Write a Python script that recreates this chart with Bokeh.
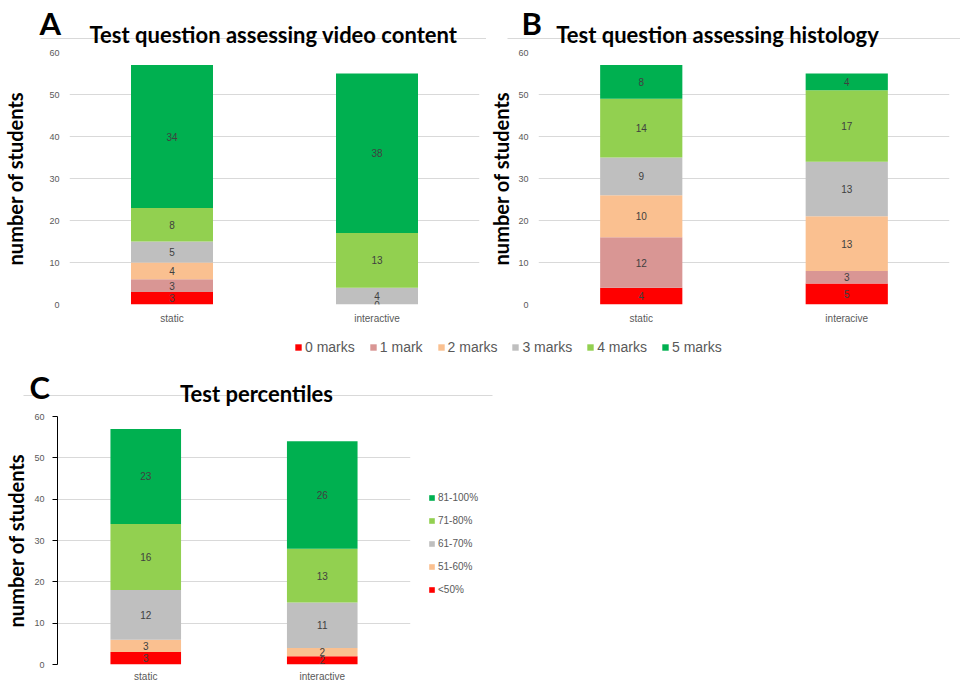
from bokeh.plotting import figure
from bokeh.layouts import column, row
from bokeh.models import (FactorRange, Range1d, FixedTicker, Label, BoxAnnotation,
                          Legend, LegendItem, ColumnDataSource, Spacer)
from bokeh.core.properties import value
from bokeh.embed import file_html
from bokeh.resources import INLINE

# ---------------- data ----------------
mark_labels = ["0 marks", "1 mark", "2 marks", "3 marks", "4 marks", "5 marks"]
mark_colors = ["#FF0000", "#D99694", "#FAC090", "#BFBFBF", "#92D050", "#00B050"]

a_groups = ["static", "interactive"]
a_static = [3, 3, 4, 5, 8, 34]
a_interactive = [0, 0, 0, 4, 13, 38]

b_groups = ["static", "interacive"]
b_static = [4, 12, 10, 9, 14, 8]
b_interactive = [5, 3, 13, 13, 17, 4]

pct_labels = ["<50%", "51-60%", "61-70%", "71-80%", "81-100%"]
pct_colors = ["#FF0000", "#FAC090", "#BFBFBF", "#92D050", "#00B050"]
c_groups = ["static", "interactive"]
c_static = [3, 3, 12, 16, 23]
c_interactive = [2, 2, 11, 13, 26]

y_ticks = [0, 10, 20, 30, 40, 50, 60]

titles = ["Test question assessing video content",
          "Test question assessing histology",
          "Test percentiles"]
letters = ["A", "B", "C"]
y_label = "number of students"

TICK_FONT = "Liberation Sans"
TITLE_FONT = "Lato"
GRID = "#D9D9D9"
BORDER = "#D9D9D9"
NAN = float("nan")


def make_panel(groups, vals, colors, width, height, mbl, mbr, mbt, mbb, label_standoff):
    p = figure(x_range=FactorRange(*groups), y_range=Range1d(0, 60),
               width=width, height=height, output_backend="svg", toolbar_location=None,
               min_border_left=mbl, min_border_right=mbr, min_border_top=mbt,
               min_border_bottom=mbb)
    keys = [f"s{i}" for i in range(len(colors))]
    data = {"g": groups}
    for i, k in enumerate(keys):
        data[k] = [vals[gi][i] for gi in range(len(groups))]
    src = ColumnDataSource(data)
    rs = p.vbar_stack(keys, x="g", width=0.4, fill_color=colors, line_color=None, source=src)

    xs, ys, ts = [], [], []
    for gi, g in enumerate(groups):
        cum = 0
        for i, v in enumerate(vals[gi]):
            if v > 0 or i == 0:
                xs.append(g)
                ys.append(cum + v / 2)
                ts.append(str(v))
            cum += v
    p.text(x=xs, y=ys, text=ts, text_align="center", text_baseline="middle",
           text_font_size="10px", text_color="#404040", text_font=value(TICK_FONT))

    p.yaxis.ticker = FixedTicker(ticks=y_ticks)
    p.yaxis.axis_line_color = None
    p.yaxis.major_tick_line_color = None
    p.yaxis.minor_tick_line_color = None
    p.yaxis.major_tick_out = 0
    p.yaxis.major_tick_in = 0
    p.yaxis.major_label_text_font = TICK_FONT
    p.yaxis.major_label_text_font_size = "9px"
    p.yaxis.major_label_text_color = "#595959"
    p.yaxis.major_label_standoff = 10
    p.yaxis.axis_label = y_label
    p.yaxis.axis_label_text_font = TITLE_FONT
    p.yaxis.axis_label_text_font_style = "bold"
    p.yaxis.axis_label_text_font_size = "20px"
    p.yaxis.axis_label_text_color = "black"
    p.yaxis.axis_label_standoff = label_standoff

    p.xaxis.axis_line_color = None
    p.xaxis.major_tick_line_color = None
    p.xaxis.minor_tick_line_color = None
    p.xaxis.major_tick_out = 0
    p.xaxis.major_tick_in = 0
    p.xaxis.major_label_text_font = TICK_FONT
    p.xaxis.major_label_text_font_size = "10px"
    p.xaxis.major_label_text_color = "#595959"
    p.xaxis.major_label_standoff = 8

    p.xgrid.grid_line_color = None
    p.ygrid.grid_line_color = GRID
    p.outline_line_color = None
    return p, rs


def make_blank(width, height, mbl=0, mbr=0, mbt=0, mbb=0):
    h = figure(width=width, height=height, x_range=Range1d(0, 1),
               y_range=Range1d(0, 1), output_backend="svg", toolbar_location=None,
               x_axis_location=None, y_axis_location=None,
               min_border_left=mbl, min_border_right=mbr, min_border_top=mbt,
               min_border_bottom=mbb)
    h.grid.visible = False
    h.outline_line_color = None
    return h


def hline(h, x0, x1, y_from_top, height):
    yb = height - y_from_top
    h.add_layout(BoxAnnotation(left=x0, right=x1, top=yb + 0.5, bottom=yb - 0.5,
                               left_units="screen", right_units="screen",
                               top_units="screen", bottom_units="screen",
                               fill_color=BORDER, fill_alpha=1, line_color=None))


def text_label(h, x, y_mid_from_top, height, txt, size, align):
    h.add_layout(Label(x=x, y=height - y_mid_from_top, x_units="screen", y_units="screen",
                       text=txt, text_font=TITLE_FONT, text_font_style="bold",
                       text_font_size=size, text_align=align,
                       text_baseline="middle", text_color="black"))


def legend_for(fig, labels, colors, location, **kw):
    items = []
    for lab, col in zip(labels, colors):
        # swatch-only renderer: no drawable data, only its colour is used by the legend
        r = fig.vbar(x=[NAN], top=[NAN], width=0.1, fill_color=col, line_color=None)
        items.append(LegendItem(label=lab, renderers=[r]))
    leg = Legend(items=items, location=location, padding=0, margin=0,
                 border_line_color=None, background_fill_alpha=0,
                 label_text_font=TICK_FONT, label_text_color="#595959", **kw)
    fig.add_layout(leg)
    return leg


HH = 48          # header height
WA, WB = 486, 474
TOTAL_W = WA + WB

# ---------------- headers A / B ----------------
hA = make_blank(WA, HH)
hline(hA, 40, WA, 38, HH)
text_label(hA, 273, 34, HH, titles[0], "22px", "center")
text_label(hA, 39, 22, HH, letters[0], "31px", "left")

hB = make_blank(WB, HH)
hline(hB, 507 - WA, WB, 38, HH)
text_label(hB, 717 - WA, 34, HH, titles[1], "22px", "center")
text_label(hB, 521 - WA, 22, HH, letters[1], "31px", "left")

# ---------------- bodies A / B ----------------
pA, _ = make_panel(a_groups, [a_static, a_interactive], mark_colors,
                   WA, 288, 69, 7, 4, 32, 19)
pB, _ = make_panel(b_groups, [b_static, b_interactive], mark_colors,
                   WB, 288, 52, 11, 4, 32, 2)

# ---------------- legend strip ----------------
strip = make_blank(TOTAL_W, 26, mbl=294, mbt=3)
legend_for(strip, mark_labels, mark_colors, "top_left", orientation="horizontal",
           glyph_width=8, glyph_height=8, label_height=16, label_standoff=3,
           spacing=14, label_text_font_size="14px")

# ---------------- panel C ----------------
WC = 420
CH = 276
hC = make_blank(500, HH)
hline(hC, 23, 492, 395 - 362, HH)
text_label(hC, 256, 393 - 362, HH, titles[2], "22px", "center")
text_label(hC, 29, 386 - 362, HH, letters[2], "31px", "left")

pC, rsC = make_panel(c_groups, [c_static, c_interactive], pct_colors,
                     WC, CH, 57, 10, 6, 22, 3)
pC.yaxis.axis_line_color = "black"
pC.yaxis.major_tick_line_color = "black"
pC.yaxis.major_tick_out = 5
pC.yaxis.major_label_standoff = 8
pC.xaxis.major_label_standoff = 6

# same top/bottom borders as pC so the row keeps both frames aligned
legC_fig = make_blank(80, CH, mbl=8, mbt=6, mbb=22)
legend_for(legC_fig, pct_labels[::-1], pct_colors[::-1], (0, 68),
           orientation="vertical", glyph_width=7, glyph_height=7, label_height=13,
           label_standoff=3, spacing=10, label_text_font_size="10px")

layout = column(
    row(hA, hB),
    row(pA, pB),
    strip,
    row(hC, Spacer(width=TOTAL_W - 500, height=HH)),
    row(pC, legC_fig, Spacer(width=TOTAL_W - WC - 80, height=CH)),
)
open("out.html", "w").write(file_html(layout, INLINE, "chart"))
